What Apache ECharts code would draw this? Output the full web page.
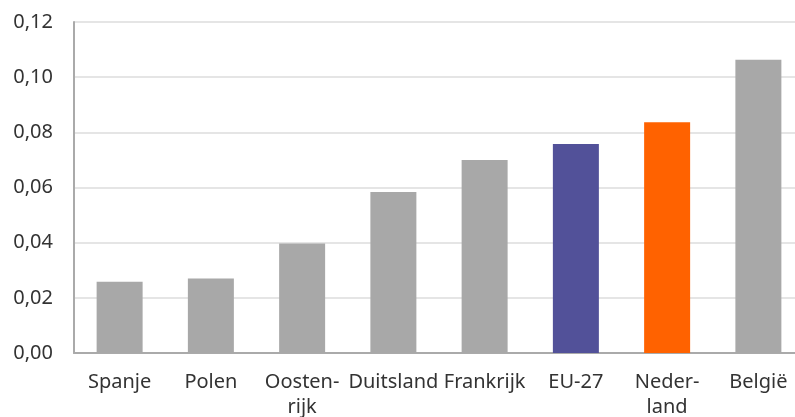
<!DOCTYPE html>
<html lang="nl">
<head>
    <meta charset="UTF-8">
    <title>Grafiek</title>
    <style>
        html, body { margin: 0; width: 795px; height: 417px; overflow: hidden; background: #fff; }
        .wrap { width: 795px; height: 417px; overflow: hidden; position: relative; }
        /* plot loopt in het origineel iets voorbij de rechterrand */
        #main { width: 804px; height: 417px; position: absolute; left: 0; top: 0; }
    </style>
</head>
<body>
    <div class="wrap"><div id="main"></div></div>
    <script src="https://cdn.jsdelivr.net/npm/echarts@6/dist/echarts.min.js"></script>
    <script>
        // landen en waarden
        const categories = ['Spanje', 'Polen', 'Oosten-\nrijk', 'Duitsland', 'Frankrijk', 'EU-27', 'Neder-\nland', 'België'];
        const values = [0.0258, 0.0270, 0.0397, 0.0584, 0.0700, 0.0758, 0.0837, 0.1063];
        const barColors = ['#a8a8a8', '#a8a8a8', '#a8a8a8', '#a8a8a8', '#a8a8a8', '#525199', '#ff6200', '#a8a8a8'];
        const yTicks = { min: 0, max: 0.12, interval: 0.02 };

        var myChart = echarts.init(document.getElementById('main'));

        var option = {
            animation: false,
            textStyle: { fontFamily: 'Noto Sans' },
            grid: {
                left: 74,
                right: 0,
                top: 22,
                bottom: 64,
                outerBoundsMode: 'none'  // geen automatische krimp voor labels
            },
            xAxis: {
                type: 'category',
                data: categories,
                axisLine: { lineStyle: { color: '#aaaaaa', width: 2 } },
                axisTick: { show: false },
                axisLabel: {
                    color: '#333',
                    fontSize: 20,
                    margin: 17,
                    lineHeight: 25,
                    interval: 0
                }
            },
            yAxis: {
                type: 'value',
                min: yTicks.min,
                max: yTicks.max,
                interval: yTicks.interval,
                axisLine: { show: true, lineStyle: { color: '#aaaaaa', width: 2 } },
                axisTick: { show: false },
                splitLine: { lineStyle: { color: '#dddddd', width: 1.5 } },
                axisLabel: {
                    color: '#333',
                    fontSize: 20,
                    margin: 21,
                    formatter: function (v) {
                        return v.toFixed(2).replace('.', ',');
                    }
                }
            },
            series: [
                {
                    type: 'bar',
                    barWidth: 46,
                    data: values.map(function (v, i) {
                        return { value: v, itemStyle: { color: barColors[i] } };
                    })
                }
            ]
        };
        myChart.setOption(option);
    </script>
</body>
</html>
